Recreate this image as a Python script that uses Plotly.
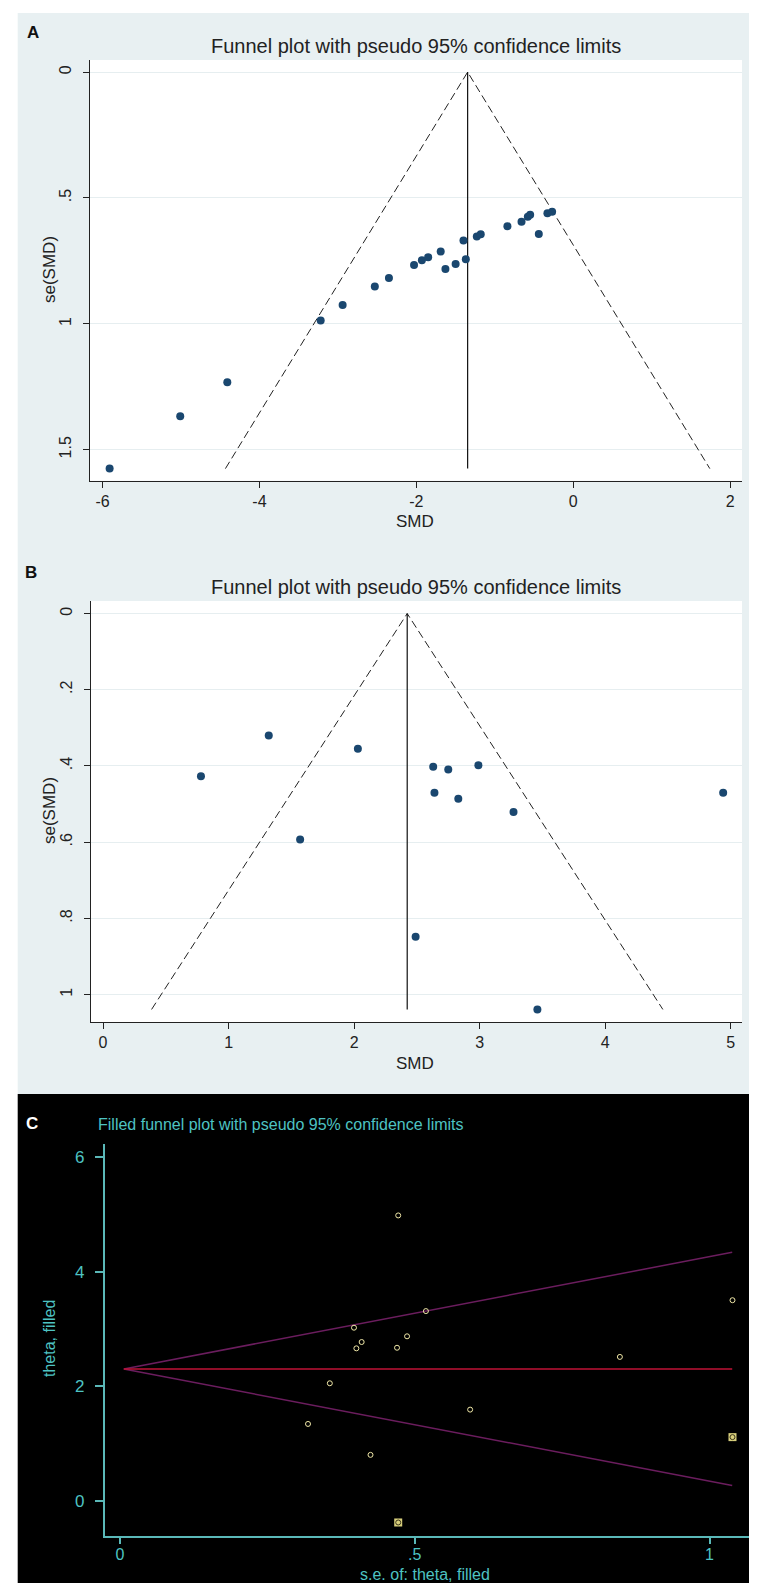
import plotly.graph_objects as go

W, H = 757, 1583

# ---------------- Data ----------------
# Panel A (SMD, se)
smd_a = [-5.91, -5.01, -4.41, -3.22, -2.94, -2.53, -2.35, -2.03, -1.93, -1.85, -1.69, -1.63,
         -1.50, -1.37, -1.40, -1.23, -1.18, -0.84, -0.66, -0.58, -0.55, -0.44, -0.33, -0.27]
se_a = [1.575, 1.367, 1.232, 0.987, 0.925, 0.852, 0.818, 0.766, 0.747, 0.735, 0.713, 0.782,
        0.762, 0.743, 0.669, 0.653, 0.644, 0.612, 0.594, 0.575, 0.567, 0.643, 0.561, 0.555]
pooled_a = -1.347
se_max_a = 1.575
xticks_a = [-6, -4, -2, 0, 2]
xticklabels_a = ["-6", "-4", "-2", "0", "2"]
yticks_a = [0, 0.5, 1, 1.5]
yticklabels_a = ["0", ".5", "1", "1.5"]

# Panel B (SMD, se)
smd_b = [0.78, 1.32, 2.03, 1.57, 2.63, 2.75, 2.99, 2.64, 2.83, 3.27, 4.94, 2.49, 3.46]
se_b = [0.427, 0.320, 0.355, 0.593, 0.402, 0.409, 0.398, 0.470, 0.486, 0.521, 0.470, 0.848, 1.039]
pooled_b = 2.423
se_max_b = 1.039
xticks_b = [0, 1, 2, 3, 4, 5]
xticklabels_b = ["0", "1", "2", "3", "4", "5"]
yticks_b = [0, 0.2, 0.4, 0.6, 0.8, 1.0]
yticklabels_b = ["0", ".2", ".4", ".6", ".8", "1"]

# Panel C (s.e., theta) observed + filled
se_c = [0.472, 1.039, 0.519, 0.397, 0.487, 0.410, 0.401, 0.470, 0.848, 0.356, 0.594, 0.319, 0.425]
theta_c = [4.98, 3.50, 3.31, 3.02, 2.87, 2.77, 2.66, 2.67, 2.51, 2.05, 1.59, 1.34, 0.80]
se_fill = [0.472, 1.039]
theta_fill = [-0.38, 1.11]
theta_pooled_c = 2.30
se_range_c = [0.0066, 1.0385]
xticks_c = [0, 0.5, 1]
xticklabels_c = ["0", ".5", "1"]
yticks_c = [0, 2, 4, 6]
yticklabels_c = ["0", "2", "4", "6"]

# ---------------- Helpers ----------------
def px(x):
    return x / W

def py(y):
    return 1 - y / H

NAVY = "#1a476f"
BG = "#e8f0f2"
GRID = "#e6eef0"
CYAN = "#4ec3c3"
CYAN_AX = "#5ab8b8"
FONT = "Liberation Sans, Arial, sans-serif"

fig = go.Figure()

# Panel A traces
fig.add_trace(go.Scatter(x=[pooled_a - 1.96 * se_max_a, pooled_a, pooled_a + 1.96 * se_max_a],
                         y=[se_max_a, 0, se_max_a], mode="lines",
                         line=dict(color="#222", width=1, dash="8px,4px"),
                         xaxis="x", yaxis="y", hoverinfo="skip"))
fig.add_trace(go.Scatter(x=[pooled_a, pooled_a], y=[0, se_max_a], mode="lines",
                         line=dict(color="#111", width=1.2), xaxis="x", yaxis="y"))
fig.add_trace(go.Scatter(x=smd_a, y=se_a, mode="markers",
                         marker=dict(color=NAVY, size=8, line=dict(width=0)),
                         xaxis="x", yaxis="y"))

# Panel B traces
fig.add_trace(go.Scatter(x=[pooled_b - 1.96 * se_max_b, pooled_b, pooled_b + 1.96 * se_max_b],
                         y=[se_max_b, 0, se_max_b], mode="lines",
                         line=dict(color="#222", width=1, dash="8px,4px"),
                         xaxis="x2", yaxis="y2"))
fig.add_trace(go.Scatter(x=[pooled_b, pooled_b], y=[0, se_max_b], mode="lines",
                         line=dict(color="#111", width=1.2), xaxis="x2", yaxis="y2"))
fig.add_trace(go.Scatter(x=smd_b, y=se_b, mode="markers",
                         marker=dict(color=NAVY, size=8, line=dict(width=0)),
                         xaxis="x2", yaxis="y2"))

# Panel C traces
fig.add_trace(go.Scatter(x=[se_range_c[1], se_range_c[0], se_range_c[1]],
                         y=[theta_pooled_c + 1.96 * se_range_c[1], theta_pooled_c,
                            theta_pooled_c - 1.96 * se_range_c[1]],
                         mode="lines", line=dict(color="#6b1d5e", width=1.5),
                         xaxis="x3", yaxis="y3"))
fig.add_trace(go.Scatter(x=se_range_c, y=[theta_pooled_c, theta_pooled_c], mode="lines",
                         line=dict(color="#c01236", width=1.5), xaxis="x3", yaxis="y3"))
fig.add_trace(go.Scatter(x=se_c, y=theta_c, mode="markers",
                         marker=dict(symbol="circle-open", color="#f0e8a8", size=5,
                                     line=dict(width=1)),
                         xaxis="x3", yaxis="y3"))
fig.add_trace(go.Scatter(x=se_fill, y=theta_fill, mode="markers",
                         marker=dict(symbol="square", color="#d8cf7c", size=8,
                                     line=dict(width=0)),
                         xaxis="x3", yaxis="y3"))
fig.add_trace(go.Scatter(x=se_fill, y=theta_fill, mode="markers",
                         marker=dict(symbol="circle-open", color="#3a3418", size=5,
                                     line=dict(width=1)),
                         xaxis="x3", yaxis="y3"))

# ---------------- Axes ----------------
tickfont_ab = dict(family=FONT, size=16, color="#222")
common_ab = dict(showline=True, linecolor="#222", linewidth=1, ticks="outside",
                 ticklen=6, tickcolor="#222", tickfont=tickfont_ab, zeroline=False, mirror=False)

A_dom_x = [px(82), px(734)]
A_dom_y = [py(472.7), py(52)]
B_dom_x = [px(83), px(734)]
B_dom_y = [py(1014), py(593)]
C_dom_x = [px(96.6), px(741)]
C_dom_y = [py(1527.7), py(1136)]

layout = dict(
    width=W, height=H, margin=dict(l=0, r=0, t=0, b=0),
    paper_bgcolor="white", plot_bgcolor="rgba(0,0,0,0)", showlegend=False,
    xaxis=dict(domain=A_dom_x, range=[-6.16, 2.15], tickvals=xticks_a, ticktext=xticklabels_a,
               showgrid=False, anchor="y", **common_ab),
    yaxis=dict(domain=A_dom_y, range=[1.623, -0.048], tickvals=yticks_a, ticktext=yticklabels_a,
               showgrid=True, gridcolor=GRID, gridwidth=1, tickangle=-90, anchor="x",
               ticklabelstandoff=6, **common_ab),
    xaxis2=dict(domain=B_dom_x, range=[-0.096, 5.09], tickvals=xticks_b, ticktext=xticklabels_b,
                showgrid=False, anchor="y2", **common_ab),
    yaxis2=dict(domain=B_dom_y, range=[1.072, -0.033], tickvals=yticks_b, ticktext=yticklabels_b,
                showgrid=True, gridcolor=GRID, gridwidth=1, tickangle=-90, anchor="x2",
                ticklabelstandoff=6, **common_ab),
    xaxis3=dict(domain=C_dom_x, range=[-0.026, 1.067], tickvals=xticks_c, ticktext=xticklabels_c,
                showgrid=False, zeroline=False, showline=True, linecolor=CYAN_AX, linewidth=1.5,
                ticks="outside", ticklen=7, tickcolor=CYAN_AX, tickwidth=1.5,
                ticklabelstandoff=-4,
                tickfont=dict(family=FONT, size=16, color=CYAN), anchor="y3"),
    yaxis3=dict(domain=C_dom_y, range=[-0.611, 6.227], tickvals=yticks_c, ticktext=yticklabels_c,
                showgrid=False, zeroline=False, showline=True, linecolor=CYAN_AX, linewidth=1.5,
                ticks="outside", ticklen=8, tickcolor=CYAN_AX, tickwidth=1.5,
                ticklabelstandoff=7,
                tickfont=dict(family=FONT, size=17, color=CYAN), anchor="x3"),
)

shapes = [
    dict(type="rect", xref="paper", yref="paper", x0=px(9.7), x1=px(751), y0=py(1086), y1=py(5),
         fillcolor=BG, line=dict(width=0), layer="below"),
    dict(type="rect", xref="paper", yref="paper", x0=px(9.7), x1=px(757), y0=py(1583), y1=py(1086),
         fillcolor="black", line=dict(width=0), layer="below"),
    dict(type="rect", xref="paper", yref="paper", x0=A_dom_x[0], x1=A_dom_x[1], y0=A_dom_y[0], y1=A_dom_y[1],
         fillcolor="white", line=dict(width=0), layer="below"),
    dict(type="rect", xref="paper", yref="paper", x0=B_dom_x[0], x1=B_dom_x[1], y0=B_dom_y[0], y1=B_dom_y[1],
         fillcolor="white", line=dict(width=0), layer="below"),
]
layout["shapes"] = shapes

def ann(text, x, y, size, color="#222", bold=False, angle=0, xanchor="center", family=FONT):
    return dict(text=("<b>%s</b>" % text) if bold else text, x=px(x), y=py(y), xref="paper",
                yref="paper", showarrow=False, xanchor=xanchor, yanchor="middle", textangle=angle,
                font=dict(family=family, size=size, color=color))

TITLE_AB = "Funnel plot with pseudo 95% confidence limits"
layout["annotations"] = [
    ann("A", 25, 24, 17, "#111", bold=True),
    ann(TITLE_AB, 407.5, 38, 20, "#222"),
    ann("se(SMD)", 41, 262, 17, "#222", angle=-90),
    ann("SMD", 407, 513, 17, "#222"),
    ann("B", 23, 564, 17, "#111", bold=True),
    ann(TITLE_AB, 407.5, 579, 20, "#222"),
    ann("se(SMD)", 41, 803, 17, "#222", angle=-90),
    ann("SMD", 407, 1055, 17, "#222"),
    ann("C", 24, 1115, 17, "white", bold=True),
    ann("Filled funnel plot with pseudo 95% confidence limits", 88, 1116, 16, CYAN, xanchor="left"),
    ann("theta, filled", 41, 1331, 16, CYAN, angle=-90),
    ann("s.e. of: theta, filled", 417, 1566, 16, CYAN),
]

fig.update_layout(**layout)
fig.write_html("out.html")
